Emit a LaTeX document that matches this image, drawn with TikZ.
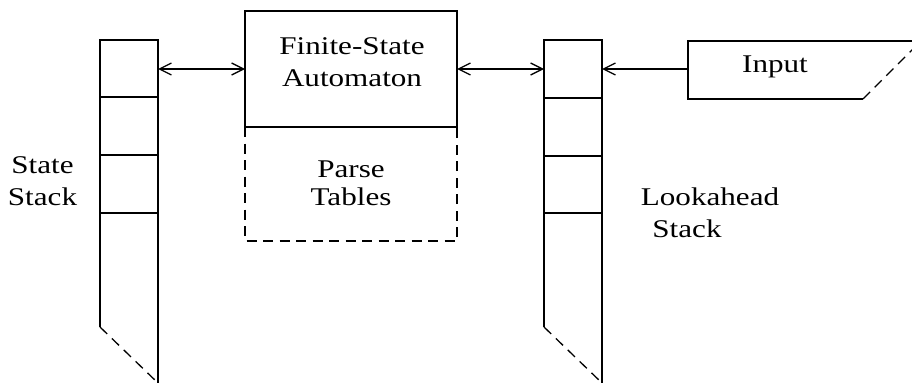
\documentclass[tikz,border=0pt]{standalone}
\usepackage{fontspec}
\setmainfont{Liberation Serif}
\usetikzlibrary{arrows.meta}
\newcommand{\sx}[1]{\scalebox{1.22}[1]{#1}}
\begin{document}
\begin{tikzpicture}[x=1pt,y=-1pt,
  ln/.style={line width=1.3pt},
  dsh/.style={line width=1.3pt,dash pattern=on 10pt off 6.5pt},
  arr/.style={line width=1.3pt,-{Straight Barb[length=12pt,width=12pt,line width=1.3pt]}},
  darr/.style={line width=1.3pt,{Straight Barb[length=12pt,width=12pt,line width=1.3pt]}-{Straight Barb[length=12pt,width=12pt,line width=1.3pt]}},
  lbl/.style={anchor=base,inner sep=0pt,font=\fontsize{25.5}{32}\selectfont}]
\clip (0,0) rectangle (912,385);
\fill[white] (0,0) rectangle (912,385);
% left stack
\draw[ln] (100,327) -- (100,40) -- (158,40) -- (158,383);
\foreach \yy in {97,155,213} \draw[ln] (100,\yy) -- (158,\yy);
\draw[dsh] (100,327) -- (158,383);
% FSA box
\draw[ln] (245,127) -- (245,11) -- (457,11) -- (457,127) -- cycle;
\draw[dsh] (245,127) -- (245,241) -- (457,241) -- (457,127);
% right stack
\draw[ln] (544,327) -- (544,40) -- (602,40) -- (602,383);
\foreach \yy in {98,156,213} \draw[ln] (544,\yy) -- (602,\yy);
\draw[dsh] (544,327) -- (602,383);
% input
\draw[ln] (921,41) -- (688,41) -- (688,99) -- (863,99);
\draw[dsh] (863,99) -- (921,41);
% connection points
\coordinate (lsR) at (158,69);
\coordinate (fsaL) at (245,69);
\coordinate (fsaR) at (457,69);
\coordinate (rsL) at (544,69);
\coordinate (rsR) at (602,69);
\coordinate (inL) at (688,69);
\draw[darr] (lsR) -- (fsaL);
\draw[darr] (fsaR) -- (rsL);
\draw[arr] (inL) -- (rsR);
% labels
\node[lbl] (fsa1) at (352,55) {\sx{Finite-State}};
\node[lbl] (fsa2) at (352,87) {\sx{Automaton}};
\node[lbl] (pt1) at (351,177) {\sx{Parse}};
\node[lbl] (pt2) at (351,205) {\sx{Tables}};
\node[lbl] (ss1) at (42.5,173) {\sx{State}};
\node[lbl] (ss2) at (42.5,205) {\sx{Stack}};
\node[lbl] (la1) at (710,205) {\sx{Lookahead}};
\node[lbl] (la2) at (687,237) {\sx{Stack}};
\node[lbl] (inp) at (775,73) {\sx{Input}};
\end{tikzpicture}
\end{document}
